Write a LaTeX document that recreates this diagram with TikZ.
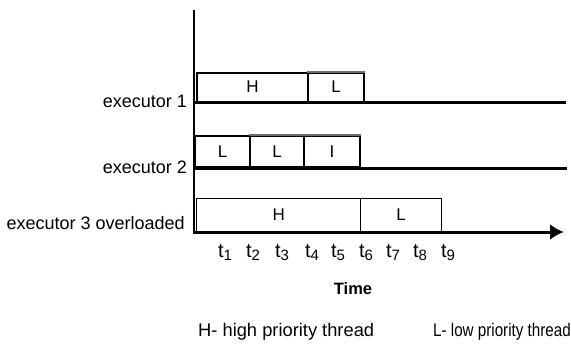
\documentclass[tikz,border=0pt]{standalone}
\usepackage{fontspec}
\setmainfont{Liberation Sans}
\usetikzlibrary{arrows.meta}
\definecolor{topgray}{gray}{0.42}
\newcommand{\tlabel}[1]{{\fontsize{20}{20}\selectfont t}\raisebox{-3pt}{\fontsize{15}{15}\selectfont #1}}
\begin{document}
\begin{tikzpicture}[x=1pt,y=-1pt,
  every node/.style={font=\fontsize{17}{20}\selectfont},
  slot/.style={draw=black,line width=2pt,inner sep=0pt,anchor=south west},
  slotthin/.style={draw=black,line width=1.4pt,inner sep=0pt,anchor=south west},
  base/.style={line width=3pt},
  grayedge/.style={draw=topgray,line width=2pt},
  rowlabel/.style={anchor=east,inner sep=0pt,font=\fontsize{18}{20}\selectfont},
  legend/.style={anchor=west,inner sep=0pt,font=\fontsize{18.3}{20}\selectfont},
  tick/.style={inner sep=0pt}]
\useasboundingbox (0,0) rectangle (571,349);

% time axis origin, vertical axis and row baselines
\coordinate (top) at (194,10);
\coordinate (bot) at (194,234);
\coordinate (e1s) at (194,102.5);
\coordinate (e1e) at (566,102.5);
\coordinate (e2s) at (194,168);
\coordinate (e2e) at (567,168);
\coordinate (e3s) at (194,232);
\coordinate (e3e) at (564,232);

\draw[line width=2pt] (top) -- (bot);
\draw[base] (e1s) -- (e1e);
\draw[base] (e2s) -- (e2e);
\draw[base,-{Latex[length=14pt,width=16pt]}] (e3s) -- (e3e);

% executor 1
\node[slot,minimum width=111pt,minimum height=29pt] (h1) at (196,102.5) {H};
\node[slot,minimum width=56pt,minimum height=29pt] (l1) at (307,102.5) {L};
\draw[grayedge] (l1.north west) -- (l1.north east);

% executor 2
\node[slot,minimum width=55pt,minimum height=31pt] (l2a) at (194,168) {L};
\node[slot,minimum width=54pt,minimum height=31pt] (l2b) at (249,168) {L};
\node[slot,minimum width=56pt,minimum height=31pt] (i2) at (303,168) {I};
\draw[grayedge] (l2b.north west) -- (l2b.north east);
\draw[grayedge] (i2.north west) -- (i2.north east);

% executor 3 (overloaded)
\node[slotthin,minimum width=164pt,minimum height=33pt] (h3) at (196,232) {H};
\node[slotthin,minimum width=81pt,minimum height=33pt] (l3) at (360,232) {L};

% row labels
\node[rowlabel] (n1) at (187,101) {executor 1};
\node[rowlabel] (n2) at (187,167) {executor 2};
\node[rowlabel] (n3) at (185,223) {executor 3 overloaded};

% time instants
\node[tick] (t1) at (225,253) {\tlabel{1}};
\node[tick] (t2) at (253,253) {\tlabel{2}};
\node[tick] (t3) at (282,253) {\tlabel{3}};
\node[tick] (t4) at (312,253) {\tlabel{4}};
\node[tick] (t5) at (338,253) {\tlabel{5}};
\node[tick] (t6) at (366,253) {\tlabel{6}};
\node[tick] (t7) at (393,253) {\tlabel{7}};
\node[tick] (t8) at (420,253) {\tlabel{8}};
\node[tick] (t9) at (448,253) {\tlabel{9}};

\node[font=\fontsize{16.5}{18}\selectfont\bfseries] (time) at (353,289) {Time};

% legend (the second entry is set narrower so that it fits the width)
\node[legend] (legH) at (198,332) {H- high priority thread};
\node[legend] (legL) at (433,332) {\scalebox{0.83}[1]{L- low priority thread}};
\end{tikzpicture}
\end{document}
